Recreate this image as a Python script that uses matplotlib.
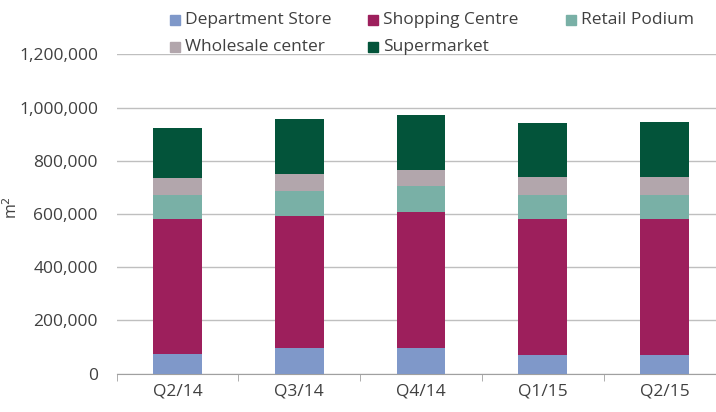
import matplotlib.pyplot as plt
from matplotlib.patches import Rectangle
from matplotlib.ticker import FuncFormatter
import numpy as np

plt.rcParams['font.family'] = ['Open Sans', 'DejaVu Sans']

quarters = ['Q2/14', 'Q3/14', 'Q4/14', 'Q1/15', 'Q2/15']
department = [73000, 96000, 96000, 70000, 70000]
shopping = [508000, 497000, 513000, 511000, 511000]
retail = [91000, 92000, 96000, 91000, 91000]
wholesale = [63000, 67000, 62000, 68000, 68000]
supermarket = [189000, 204000, 207000, 203000, 207000]

series = [('Department Store', department, '#7f98c9'),
          ('Shopping Centre', shopping, '#9d1f5c'),
          ('Retail Podium', retail, '#79b0a6'),
          ('Wholesale center', wholesale, '#b2a6ac'),
          ('Supermarket', supermarket, '#03543a')]

W, H = 716, 412
fig = plt.figure(figsize=(W / 100, H / 100), dpi=100)
ax = fig.add_axes([0.163, 0.093, 0.85, 0.775])

x = np.arange(len(quarters))
bottom = np.zeros(len(quarters))
for name, vals, col in series:
    ax.bar(x, vals, 0.4, bottom=bottom, color=col, label=name, zorder=3)
    bottom += np.array(vals)

ax.set_xlim(-0.5, len(quarters) - 0.5)
ax.set_ylim(0, 1200000)
ax.set_yticks(np.arange(0, 1200001, 200000))
ax.yaxis.set_major_formatter(FuncFormatter(lambda v, p: f'{int(v):,}'))
ax.grid(axis='y', color='#bfbfbf', linewidth=1, zorder=0)
ax.set_xticks(x)
ax.set_xticklabels(quarters)
ax.set_xticks(np.arange(-0.5, len(quarters)), minor=True)
ax.tick_params(axis='x', which='major', length=0, pad=7, labelsize=12.5, colors='#404040')
ax.tick_params(axis='x', which='minor', length=5, color='#a0a0a0')
ax.tick_params(axis='y', length=0, pad=13.5, labelsize=12.5, colors='#404040')
for s in ['top', 'right', 'left']:
    ax.spines[s].set_visible(False)
ax.spines['bottom'].set_color('#a0a0a0')
ax.set_ylabel('m$^2$', fontsize=11.5, color='#404040')
ax.yaxis.set_label_coords(-0.157, 0.52)

# legend laid out like the Excel grid: 3 equal columns, 2 rows
for i, (name, vals, col) in enumerate(series):
    cx = 170 + (i % 3) * 198
    cy = 20 + (i // 3) * 27
    fig.patches.append(Rectangle((cx / W, 1 - (cy + 5) / H), 10 / W, 10 / H,
                                 transform=fig.transFigure, color=col))
    fig.text((cx + 15) / W, 1 - cy / H, name, fontsize=12.5, color='#404040',
             va='center', ha='left')

fig.savefig('out.png', dpi=100)
